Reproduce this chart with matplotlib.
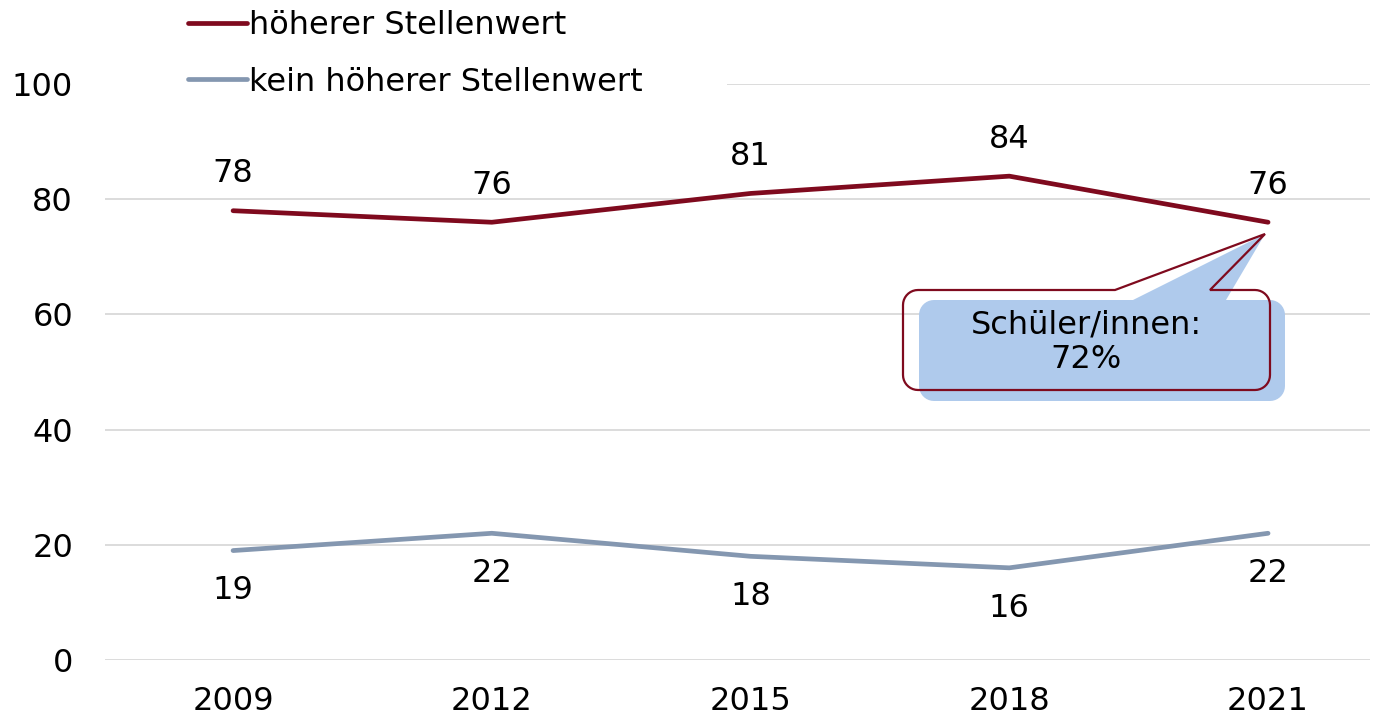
import numpy as np
import matplotlib
matplotlib.use("Agg")
import matplotlib.pyplot as plt
from matplotlib.path import Path
from matplotlib.patches import PathPatch, Rectangle
from matplotlib.transforms import Affine2D

years = ["2009", "2012", "2015", "2018", "2021"]
hoeher = [78, 76, 81, 84, 76]
kein_hoeher = [19, 22, 18, 16, 22]
series_names = ["höherer Stellenwert", "kein höherer Stellenwert"]
callout_text = "Schüler/innen:\n72%"
yticks = [0, 20, 40, 60, 80, 100]

RED = "#7F0A1E"
BLUE = "#8497B0"
GRID = "#D9D9D9"
FILL = "#AFCAEC"
FS = 23

W, H = 1382, 717
plt.rcParams['font.family'] = ['DejaVu Sans']
fig = plt.figure(figsize=(W / 100, H / 100), dpi=100)
ax = fig.add_axes([105 / W, (H - 660) / H, (1370 - 105) / W, (660 - 84) / H])

x = np.arange(len(years))
l1, = ax.plot(x, hoeher, color=RED, lw=3.4, solid_capstyle='round', zorder=4)
l2, = ax.plot(x, kein_hoeher, color=BLUE, lw=3.4, solid_capstyle='round', zorder=4)

for xi, v in zip(x, hoeher):
    ax.annotate(str(v), (xi, v), xytext=(0, 26.5), textcoords='offset points',
                ha='center', va='center', fontsize=FS, color='black')
for xi, v in zip(x, kein_hoeher):
    ax.annotate(str(v), (xi, v), xytext=(0, -29), textcoords='offset points',
                ha='center', va='center', fontsize=FS, color='black')

ax.set_xlim(-0.495, 4.394)
ax.set_ylim(0, 100)
ax.set_xticks(x)
ax.set_xticklabels(years)
ax.set_yticks(yticks)
ax.tick_params(axis='both', length=0, labelsize=FS)
ax.tick_params(axis='y', pad=23)
ax.tick_params(axis='x', pad=19)
ax.grid(axis='y', color=GRID, lw=1.3, zorder=0)
ax.set_axisbelow(True)
for s in ax.spines.values():
    s.set_visible(False)

# pixel-coordinate transform (origin top-left)
pix = Affine2D().scale(1 / W, -1 / H).translate(0, 1) + fig.transFigure

# white box of legend area over top gridline
fig.patches.append(Rectangle((100, 60), 627, 50, transform=pix, facecolor='white',
                             edgecolor='none', zorder=2))

leg = fig.legend([l1, l2], series_names, loc='upper left',
                 bbox_to_anchor=(188 / W, 1 - 10 / H), frameon=False, fontsize=FS,
                 handlelength=1.85, handletextpad=0.07, labelspacing=0.8,
                 borderpad=0.0, borderaxespad=0)
for t in leg.get_texts():
    t.set_color('black')


def callout(x0, y0, x1, y1, r, xa, xb, tip):
    verts = [(x0 + r, y0), (xa, y0), tip, (xb, y0), (x1 - r, y0)]

    def arc(cx, cy, a0, a1):
        ang = np.linspace(np.radians(a0), np.radians(a1), 10)
        return [(cx + r * np.cos(a), cy + r * np.sin(a)) for a in ang]
    verts += arc(x1 - r, y0 + r, -90, 0)
    verts += [(x1, y1 - r)]
    verts += arc(x1 - r, y1 - r, 0, 90)
    verts += [(x0 + r, y1)]
    verts += arc(x0 + r, y1 - r, 90, 180)
    verts += [(x0, y0 + r)]
    verts += arc(x0 + r, y0 + r, 180, 270)
    verts.append(verts[0])
    codes = [Path.MOVETO] + [Path.LINETO] * (len(verts) - 2) + [Path.CLOSEPOLY]
    return Path(verts, codes)

tip = (1265, 234)
p_fill = callout(919, 300, 1285, 401, 15, 1133, 1226, tip)
p_line = callout(903, 290, 1270, 390, 15, 1115, 1210, tip)
fig.patches.append(PathPatch(p_fill, transform=pix, facecolor=FILL, edgecolor='none', zorder=5))
fig.patches.append(PathPatch(p_line, transform=pix, facecolor='none', edgecolor=RED, lw=1.6, zorder=6))
fig.text(1086 / W, 1 - 342 / H, callout_text, ha='center', va='center', fontsize=FS,
         linespacing=1.15, zorder=7)

fig.savefig("out.png", dpi=100)
